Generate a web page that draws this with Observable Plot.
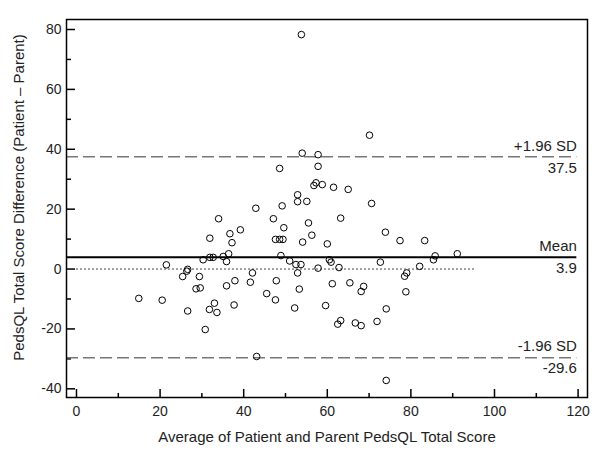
<!DOCTYPE html>
<html><head><meta charset="utf-8">
<script src="https://cdn.jsdelivr.net/npm/d3@7"></script>
<script src="https://cdn.jsdelivr.net/npm/@observablehq/plot@0.6"></script>
<style>body{margin:0;background:#fff} svg{display:block}</style>
</head><body><div id="chart"></div>
<script>
// Average of patient and parent score (x) and difference (y)
const avgScore = [53.8,70.1,54.0,57.8,48.6,57.8,57.3,56.8,58.8,61.5,65.0,52.9,52.9,55.1,49.2,70.6,42.9,47.1,34.0,63.2,
  55.5,49.6,39.2,36.7,56.3,73.9,31.9,37.2,47.6,48.6,49.4,54.1,60.0,77.4,83.3,36.4,35.1,35.9,31.9,32.7,
  30.3,21.5,48.9,51.0,52.5,53.7,52.9,60.5,60.9,57.8,62.8,72.7,85.8,85.4,91.1,82.1,79.0,78.5,26.6,26.4,
  25.4,29.4,42.1,41.6,37.9,35.9,47.8,28.6,29.6,53.3,61.2,65.4,68.7,68.1,78.8,14.9,20.5,45.5,47.6,33.0,
  31.8,33.6,37.7,26.6,52.2,59.6,74.1,63.2,62.5,66.7,68.1,71.9,30.8,43.1,74.1];
const diffScore = [78.3,44.7,38.7,38.2,33.6,34.3,28.8,27.9,28.2,27.3,26.6,24.8,22.5,22.6,21.1,21.9,20.3,16.8,16.8,17.0,
  15.4,13.8,13.1,11.8,11.3,12.3,10.3,8.8,9.9,9.9,9.9,9.0,8.4,9.5,9.5,5.1,4.2,2.5,3.9,3.9,
  3.1,1.4,4.5,2.7,1.5,1.5,-1.3,3.1,2.3,0.3,0.5,2.3,4.4,3.1,5.1,0.9,-1.3,-2.4,-0.1,-0.7,
  -2.5,-2.5,-1.3,-4.4,-3.9,-5.6,-3.9,-6.6,-6.3,-6.7,-4.9,-4.6,-5.8,-7.5,-7.6,-9.8,-10.4,-8.2,-10.3,-11.4,
  -13.5,-14.5,-12.0,-14.0,-13.0,-12.2,-13.3,-17.2,-18.4,-18.0,-18.9,-17.5,-20.2,-29.2,-37.2];

const xMajorTicks = [0, 20, 40, 60, 80, 100, 120];
const xMinorTicks = [10, 30, 50, 70, 90, 110];
const yMajorTicks = [-40, -20, 0, 20, 40, 60, 80];
const yMinorTicks = [-30, -10, 10, 30, 50, 70];

const limitValues = [37.5, -29.6];
const limitNames = ["+1.96 SD", "-1.96 SD"];
const limitLabels = ["37.5", "-29.6"];
const meanValue = [3.9];
const meanName = ["Mean"];
const meanLabel = ["3.9"];
const zeroLineRange = [0, 95.5];
const lineEnd = 119.7;

const xTitle = "Average of Patient and Parent PedsQL Total Score";
const yTitle = "PedsQL Total Score Difference (Patient \u2013 Parent)";

const xDomain = [-2.39, 122.25];
const yDomain = [-42.9, 83.34];

const W = 600, H = 454, mL = 66, mR = 13, mT = 19, mB = 57;
const plotW = W - mL - mR, plotH = H - mT - mB;

const points = avgScore.map((x, i) => ({x, y: diffScore[i]}));
const textColor = "#222";

const chart = Plot.plot({
  width: W, height: H,
  marginLeft: mL, marginRight: mR, marginTop: mT, marginBottom: mB,
  style: {fontFamily: "'Liberation Sans', Arial, sans-serif", fontSize: "14px", color: textColor, background: "#fff"},
  x: {domain: xDomain},
  y: {domain: yDomain},
  marks: [
    Plot.axisX(xMajorTicks, {anchor: "bottom", tickSize: 0, tickPadding: 9, tickFormat: d => String(d), label: null, fill: textColor}),
    Plot.axisY(yMajorTicks, {anchor: "left", tickSize: 0, tickPadding: 5, tickFormat: d => String(d), label: null, fill: textColor}),
    Plot.tickY(yMajorTicks, {y: d => d, insetRight: plotW - 9, stroke: "black", strokeWidth: 1.5}),
    Plot.tickY(yMinorTicks, {y: d => d, insetRight: plotW - 5, stroke: "black", strokeWidth: 1.5}),
    Plot.tickX(xMajorTicks, {x: d => d, insetTop: plotH - 8, stroke: "black", strokeWidth: 1.5}),
    Plot.tickX(xMinorTicks, {x: d => d, insetTop: plotH - 4, stroke: "black", strokeWidth: 1.5}),
    Plot.ruleY([0], {y: d => d, x1: zeroLineRange[0], x2: zeroLineRange[1], stroke: "#444", strokeWidth: 1, strokeDasharray: "2,2"}),
    Plot.ruleY(limitValues, {y: d => d, x1: xDomain[0], x2: lineEnd, stroke: "#777", strokeWidth: 1.5, strokeDasharray: "12,5"}),
    Plot.ruleY(meanValue, {y: d => d, x1: xDomain[0], x2: lineEnd, stroke: "black", strokeWidth: 2}),
    Plot.dot(points, {x: "x", y: "y", r: 3.3, stroke: "black", fill: "none", strokeWidth: 1}),
    Plot.text(limitValues, {x: () => lineEnd, y: d => d, text: (d, i) => limitNames[i], textAnchor: "end", dy: -11, fontSize: 15, fill: textColor}),
    Plot.text(limitValues, {x: () => lineEnd, y: d => d, text: (d, i) => limitLabels[i], textAnchor: "end", dy: 11, fontSize: 15, fill: textColor}),
    Plot.text(meanValue, {x: () => lineEnd, y: d => d, text: (d, i) => meanName[i], textAnchor: "end", dy: -11, fontSize: 15, fill: textColor}),
    Plot.text(meanValue, {x: () => lineEnd, y: d => d, text: (d, i) => meanLabel[i], textAnchor: "end", dy: 11, fontSize: 15, fill: textColor}),
    Plot.text([xTitle], {frameAnchor: "bottom", textAnchor: "middle", lineAnchor: "middle", dy: 40, fontSize: 15, fill: textColor}),
    Plot.text([yTitle], {frameAnchor: "left", textAnchor: "middle", lineAnchor: "middle", rotate: -90, dx: -47, dy: -11, fontSize: 15, fill: textColor}),
    Plot.frame({stroke: "black", strokeWidth: 1.5})
  ]
});
document.getElementById("chart").appendChild(chart);
</script>
</body></html>
